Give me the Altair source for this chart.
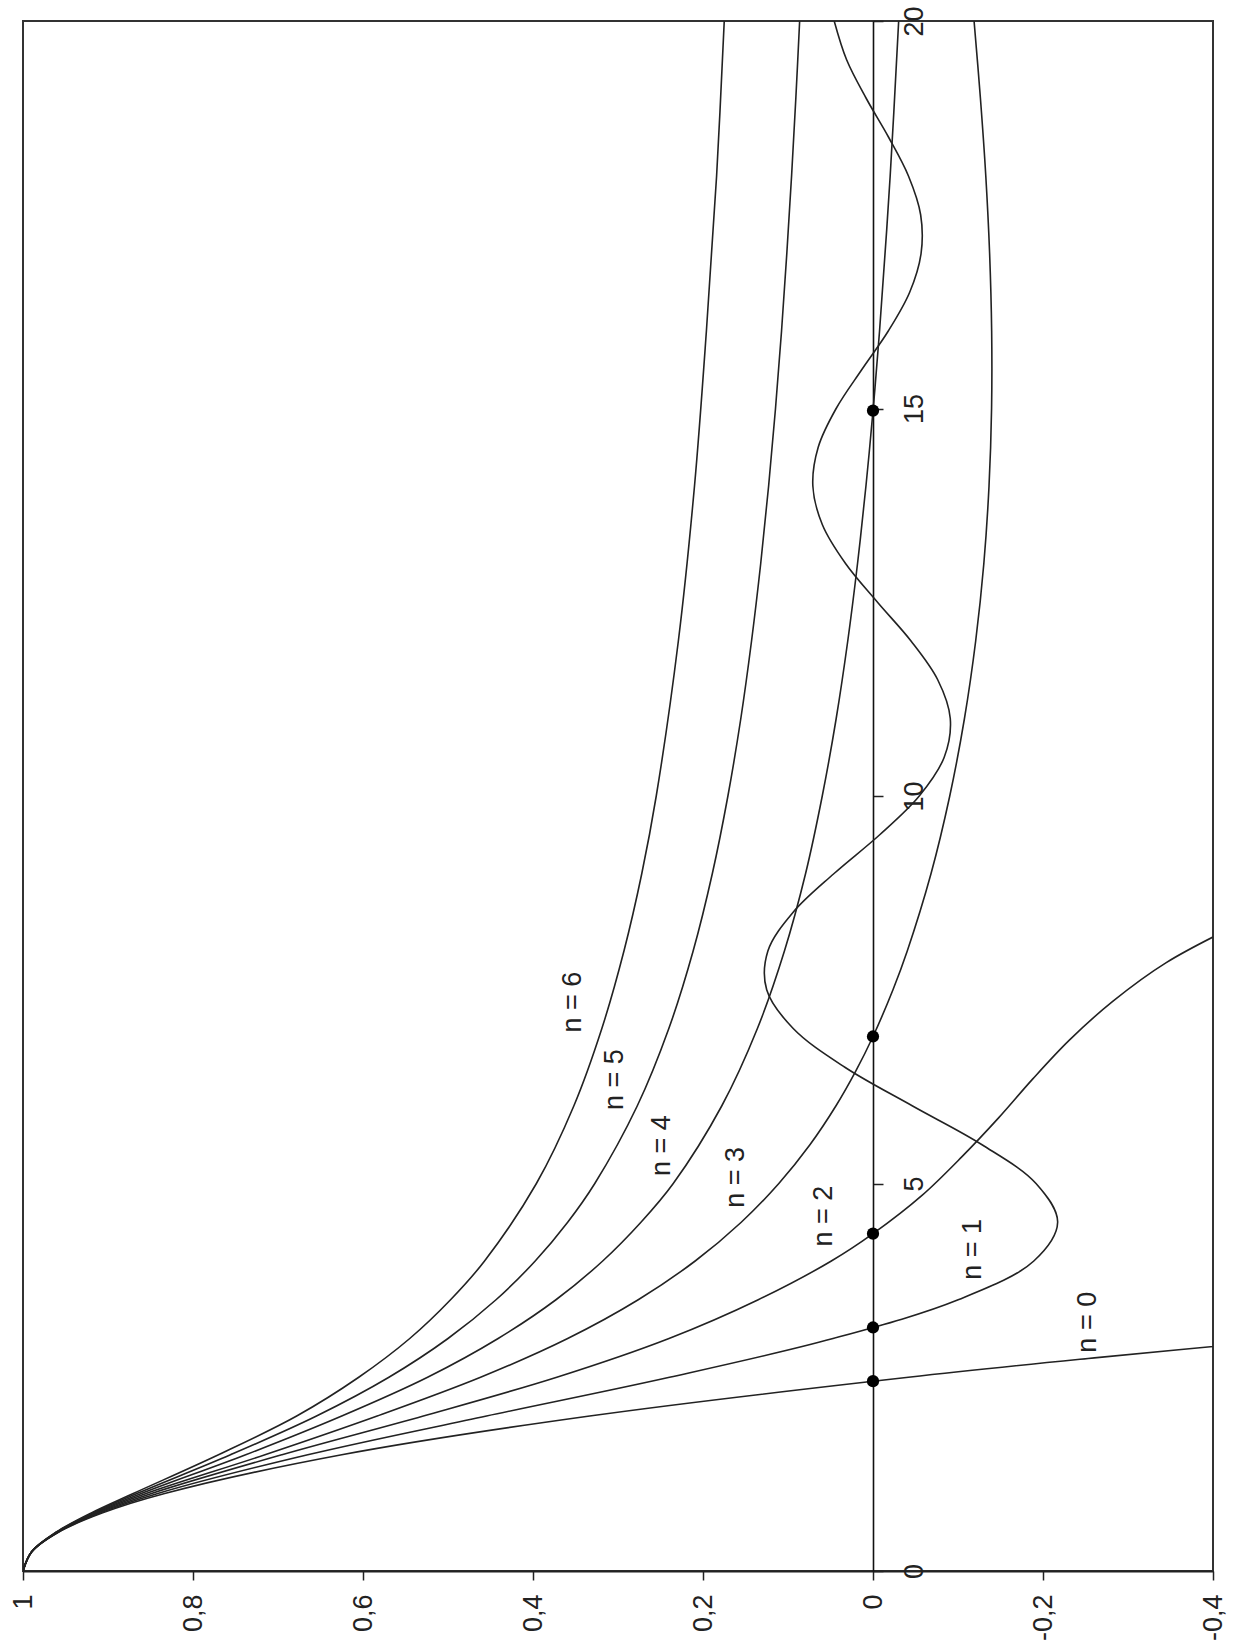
import altair as alt
import pandas as pd

# Lane-Emden solutions theta_n(xi), tabulated per polytropic index n
xi_0 = [0, 0.25, 0.5, 0.75, 1, 1.5, 2, 2.5, 2.75, 3.0]
th_0 = [1, 0.98958, 0.9583, 0.90625, 0.8333, 0.625, 0.3333, -0.0417, -0.2604, -0.5]

xi_1 = [0, 0.25, 0.5, 0.75, 1, 1.5, 2, 2.5, 3, 3.5, 4, 4.5, 5, 5.5, 6, 6.5, 7, 7.5, 8,
        8.5, 9, 9.5, 10, 10.5, 11, 11.5, 12, 12.5, 13, 13.5, 14, 14.5, 15, 15.5, 16,
        16.5, 17, 17.5, 18, 18.5, 19, 19.5, 20]
th_1 = [1, 0.98962, 0.95885, 0.90885, 0.84147, 0.66500, 0.45465, 0.23939, 0.04704,
        -0.10022, -0.18920, -0.21723, -0.19178, -0.12828, -0.04657, 0.03310, 0.09386,
        0.12507, 0.12367, 0.09394, 0.04579, -0.00792, -0.05440, -0.08378, -0.09091,
        -0.07613, -0.04471, -0.00531, 0.03232, 0.05954, 0.07076, 0.06447, 0.04335,
        0.01332, -0.01799, -0.04316, -0.05655, -0.05605, -0.04172, -0.01835, 0.00789,
        0.03105, 0.04565]

xi_2 = [0, 0.25, 0.5, 0.75, 1, 1.5, 2, 2.5, 3, 3.5, 4, 4.353, 4.85, 5.35, 5.85, 6.35,
        6.85, 7.35, 7.85, 8.35]
th_2 = [1, 0.98965, 0.9594, 0.91126, 0.8487, 0.6953, 0.529, 0.372, 0.240, 0.135,
        0.049, 0, -0.058, -0.105, -0.148, -0.188, -0.231, -0.282, -0.345, -0.431]

xi_3 = [0, 0.25, 0.5, 0.75, 1, 1.5, 2, 2.5, 3, 3.5, 4, 4.5, 5, 5.5, 6, 6.45, 6.897, 7.5,
        8, 9, 10, 11, 12, 13, 14, 15, 16, 17, 18, 19, 20]
th_3 = [1, 0.98967, 0.9598, 0.91354, 0.8551, 0.7153, 0.5833, 0.4617, 0.3592, 0.2762,
        0.2092, 0.155, 0.1108, 0.0742, 0.0437, 0.0203, 0, -0.0235, -0.0403, -0.0683,
        -0.0903, -0.1076, -0.1208, -0.1304, -0.1365, -0.1395, -0.1396, -0.1372,
        -0.1327, -0.1264, -0.1189]

xi_4 = [0, 0.25, 0.5, 0.75, 1, 1.5, 2, 2.5, 3, 3.5, 4, 4.5, 5, 6, 7, 8, 9, 10, 11, 12,
        13, 14, 14.97, 16, 18, 20]
th_4 = [1, 0.9897, 0.9603, 0.91563, 0.8608, 0.738, 0.625, 0.524, 0.441, 0.373, 0.318,
        0.273, 0.235, 0.178, 0.136, 0.1042, 0.0793, 0.0597, 0.0433, 0.0297, 0.0182,
        0.0083, 0, -0.0077, -0.0202, -0.0302]

xi_5 = [0, 0.25, 0.5, 0.75, 1, 1.5, 2, 2.5, 3, 3.5, 4, 4.5, 5, 6, 7, 8, 9, 10, 11, 12,
        13, 14, 15, 16, 17, 18, 19, 20]
th_5 = [1, 0.98974, 0.9608, 0.91766, 0.8660, 0.7559, 0.6547, 0.5695, 0.5, 0.4435,
        0.3974, 0.3592, 0.3273, 0.2774, 0.2402, 0.2116, 0.1890, 0.1707, 0.1555, 0.1429,
        0.1321, 0.1228, 0.1147, 0.1076, 0.1014, 0.0958, 0.0908, 0.0863]

xi_6 = [0, 0.25, 0.5, 0.75, 1, 1.5, 2, 2.5, 3, 3.5, 4, 5, 6, 7, 8, 9, 10, 12, 14, 16,
        18, 20]
th_6 = [1, 0.98977, 0.9612, 0.9196, 0.8703, 0.770, 0.678, 0.605, 0.545, 0.497, 0.457,
        0.396, 0.352, 0.319, 0.293, 0.272, 0.255, 0.229, 0.210, 0.196, 0.184, 0.175]

# first zeros xi_1 of the bounded solutions
zero_xi = [2.449, 3.142, 4.353, 6.897, 14.972]
zero_th = [0, 0, 0, 0, 0]

# curve labels, set just beside each curve
label_text = ["n = 6", "n = 5", "n = 4", "n = 3", "n = 2", "n = 1", "n = 0"]
label_th = [0.353, 0.304, 0.248, 0.161, 0.058, -0.118, -0.253]
label_xi = [7.34, 6.34, 5.49, 5.08, 4.58, 4.15, 3.21]

theta_ticks = [1, 0.8, 0.6, 0.4, 0.2, 0, -0.2, -0.4]
xi_ticks = [0, 5, 10, 15, 20]

series = [(0, xi_0, th_0), (1, xi_1, th_1), (2, xi_2, th_2), (3, xi_3, th_3),
          (4, xi_4, th_4), (5, xi_5, th_5), (6, xi_6, th_6)]
rows = []
for n, xs, ts in series:
    for x, t in zip(xs, ts):
        rows.append({"n": n, "xi": x, "theta": t})
curves = pd.DataFrame(rows)
zeros = pd.DataFrame({"xi": zero_xi, "theta": zero_th})
labels = pd.DataFrame({"label": label_text, "xi": label_xi, "theta": label_th})

W, H = 1190, 1550
FONT = "Liberation Sans"

x_enc = alt.X(
    "theta:Q",
    scale=alt.Scale(domain=[-0.4, 1], reverse=True, nice=False, zero=False),
    axis=alt.Axis(
        values=theta_ticks, title=None, grid=False, orient="bottom",
        labelExpr="replace(toString(datum.value), '.', ',')",
        labelAngle=270, labelAlign="right", labelBaseline="middle",
        labelPadding=14, labelFontSize=27, labelFont=FONT, labelColor="#222",
        labelFlush=False, labelOverlap=False, labelBound=False,
        tickSize=9, tickWidth=1.5, tickColor="#222",
        domainColor="#222", domainWidth=2,
    ),
)
y_enc = alt.Y(
    "xi:Q",
    scale=alt.Scale(domain=[0, 20], nice=False, zero=False),
    axis=alt.Axis(
        values=xi_ticks, title=None, grid=False, orient="right",
        offset=-(W - W / 1.4),
        labelAngle=270, labelAlign="center", labelBaseline="top",
        labelPadding=18, labelFontSize=27, labelFont=FONT, labelColor="#222",
        labelFlush=False, labelOverlap=False, labelBound=False,
        tickSize=10, tickWidth=1.5, tickColor="#222",
        domainColor="#111", domainWidth=1.6,
    ),
)

lines = alt.Chart(curves).mark_line(
    clip=True, interpolate="catmull-rom", color="#222", strokeWidth=1.6
).encode(x=x_enc, y=y_enc, detail="n:N", order=alt.Order("xi:Q"))

dots = alt.Chart(zeros).mark_point(
    filled=True, shape="circle", size=150, color="#000", opacity=1
).encode(x=x_enc, y=y_enc)

texts = alt.Chart(labels).mark_text(
    angle=270, align="center", baseline="middle", fontSize=27, font=FONT, color="#222"
).encode(x=x_enc, y=y_enc, text="label:N")

chart = (
    alt.layer(lines, dots, texts)
    .properties(
        width=W, height=H,
        autosize=alt.AutoSizeParams(type="none"),
        padding={"left": 23, "top": 21, "right": 29, "bottom": 77},
        background="white",
    )
    .configure_view(stroke="#333", strokeWidth=2)
)

chart.save("out.html", embed_options={"renderer": "svg", "actions": False})
